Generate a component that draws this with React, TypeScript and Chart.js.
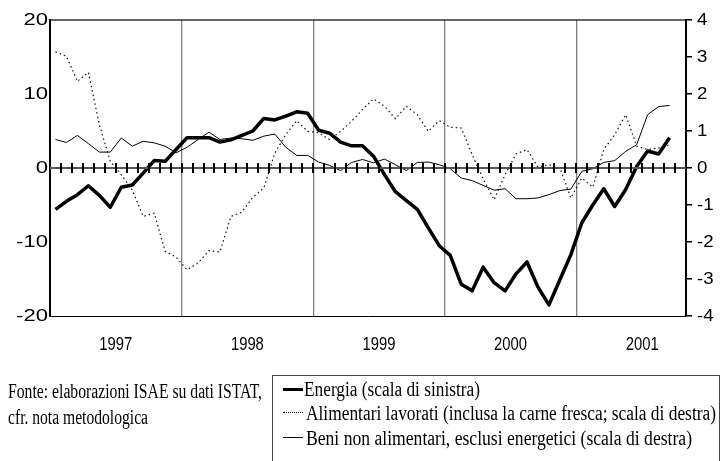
import React, { useEffect, useLayoutEffect, useRef } from 'react';
import { Chart, registerables } from 'chart.js';

Chart.register(...registerables);

// ---- data (monthly, Jan 1997 – Sep 2001) ----
const yearLabels = ['1997', '1998', '1999', '2000', '2001'];
const axisMonths = 58; // Jan 1997 .. Oct 2001

const energia = [
  -5.6, -4.5, -3.6, -2.4, -3.7, -5.3, -2.6, -2.3, -0.7, 1.0, 0.9, 2.5,
  4.1, 4.1, 4.1, 3.5, 3.8, 4.4, 5.0, 6.7, 6.5, 7.0, 7.6, 7.4,
  5.1, 4.7, 3.5, 3.0, 3.0, 1.6, -0.9, -3.2, -4.4, -5.6, -8.1, -10.5,
  -11.8, -15.7, -16.6, -13.4, -15.5, -16.6, -14.3, -12.7, -16.1, -18.5, -15.1, -11.7,
  -7.4, -5.0, -2.8, -5.2, -2.9, 0.2, 2.3, 1.9, 4.1,
];

const alimentari = [
  3.14, 3.02, 2.34, 2.59, 1.17, 0.18, -0.18, -0.59, -1.31, -1.22, -2.25, -2.41,
  -2.75, -2.57, -2.23, -2.27, -1.31, -1.19, -0.79, -0.54, 0.4, 0.9, 1.28, 0.99,
  0.95, 0.77, 0.99, 1.26, 1.58, 1.87, 1.67, 1.33, 1.67, 1.44, 0.99, 1.28,
  1.1, 1.08, 0.36, -0.29, -0.86, -0.18, 0.38, 0.5, 0.02, 0.09, 0.0, -0.81,
  -0.27, -0.52, 0.5, 0.9, 1.44, 0.59, 0.5, 0.54, 0.63,
];

const beni = [
  0.77, 0.69, 0.88, 0.66, 0.43, 0.43, 0.81, 0.59, 0.72, 0.68, 0.59, 0.41,
  0.56, 0.77, 0.97, 0.77, 0.81, 0.79, 0.75, 0.86, 0.92, 0.56, 0.34, 0.34,
  0.16, 0.07, -0.07, 0.15, 0.23, 0.14, 0.24, 0.09, -0.07, 0.15, 0.16, 0.09,
  -0.02, -0.27, -0.34, -0.47, -0.6, -0.56, -0.83, -0.83, -0.81, -0.72, -0.61, -0.57,
  -0.09, -0.02, 0.15, 0.2, 0.45, 0.63, 1.44, 1.66, 1.69,
];

const legendLabels = [
  'Energia (scala di sinistra)',
  'Alimentari lavorati (inclusa la carne fresca; scala di destra)',
  'Beni non alimentari, esclusi energetici (scala di destra)',
];
const sourceLines = ['Fonte: elaborazioni ISAE su dati ISTAT,', 'cfr. nota metodologica'];

const toPoints = (arr: number[]) => arr.map((v, i) => ({ x: i + 0.5, y: v }));

const SANS = '"Liberation Sans", Arial, sans-serif';
const SERIF = '"Liberation Serif", "Times New Roman", serif';

function drawScaled(ctx: CanvasRenderingContext2D, text: string, px: number, py: number, align: CanvasTextAlign, sx: number) {
  ctx.save();
  ctx.translate(px, py);
  ctx.scale(sx, 1);
  ctx.textAlign = align;
  ctx.fillText(text, 0, 0);
  ctx.restore();
}

function drawFrame(chart: any) {
  const { ctx, chartArea: a, scales } = chart;
  const x = scales.x;
  const y = scales.y;
  const y0 = Math.round(y.getPixelForValue(0));
  ctx.save();
  ctx.setLineDash([]);
  ctx.globalAlpha = 1;
  // zero line
  ctx.fillStyle = '#555';
  ctx.fillRect(a.left, y0 - 1, a.right - a.left, 2);
  // monthly tick marks crossing the zero line
  ctx.fillStyle = '#000';
  for (let k = 1; k < axisMonths; k++) {
    const px = Math.round(x.getPixelForValue(k));
    ctx.fillRect(px - 1, y0 - 5, 2, 10);
  }
  // top frame line
  ctx.fillRect(a.left, a.top - 0.6, a.right - a.left, 1.2);
  ctx.restore();
}

const decorPlugin = {
  id: 'decor',
  afterDraw(chart: any) {
    const { ctx, chartArea: a, scales } = chart;
    drawFrame(chart);
    ctx.save();
    ctx.fillStyle = '#000';
    ctx.textBaseline = 'middle';
    ctx.font = `17px ${SANS}`;
    scales.y.ticks.forEach((t: any) => {
      drawScaled(ctx, String(t.value), a.left - 2, scales.y.getPixelForValue(t.value) + 0.5, 'right', 1.3);
    });
    ctx.font = `17px ${SANS}`;
    scales.y1.ticks.forEach((t: any) => {
      drawScaled(ctx, String(t.value), a.right + 11, scales.y1.getPixelForValue(t.value) + 0.5, 'left', 1.1);
    });
    ctx.font = `19px ${SANS}`;
    yearLabels.forEach((lab, i) => {
      drawScaled(ctx, lab, scales.x.getPixelForValue(i * 12 + 6), a.bottom + 29, 'center', 0.78);
    });
    ctx.restore();
  },
};

function FitText({ text, left, baseline, width, size }: { text: string; left: number; baseline: number; width: number; size: number }) {
  const ref = useRef<HTMLSpanElement>(null);
  useLayoutEffect(() => {
    const el = ref.current;
    if (!el) return;
    el.style.transform = 'none';
    const w = el.getBoundingClientRect().width;
    if (w > 0) el.style.transform = `scaleX(${width / w})`;
  }, [text, width]);
  return (
    <span
      ref={ref}
      style={{
        position: 'absolute',
        left,
        top: baseline - Math.round(size * 0.84),
        fontFamily: SERIF,
        fontSize: size,
        lineHeight: 1,
        whiteSpace: 'nowrap',
        transformOrigin: '0 0',
        color: '#000',
      }}
    >
      {text}
    </span>
  );
}

export default function App() {
  const canvasRef = useRef<HTMLCanvasElement>(null);

  useEffect(() => {
    const chart = new Chart(canvasRef.current as HTMLCanvasElement, {
      type: 'line',
      data: {
        datasets: [
          {
            label: legendLabels[0],
            data: toPoints(energia),
            yAxisID: 'y',
            borderColor: '#000',
            borderWidth: 3.5,
            pointRadius: 0,
            tension: 0,
            borderJoinStyle: 'round',
            fill: false,
          },
          {
            label: legendLabels[1],
            data: toPoints(alimentari),
            yAxisID: 'y1',
            borderColor: '#111',
            borderWidth: 1.2,
            borderDash: [1.5, 3],
            pointRadius: 0,
            tension: 0,
            fill: false,
          },
          {
            label: legendLabels[2],
            data: toPoints(beni),
            yAxisID: 'y1',
            borderColor: '#000',
            borderWidth: 1,
            pointRadius: 0,
            tension: 0,
            fill: false,
          },
        ],
      },
      options: {
        responsive: false,
        animation: false,
        layout: { padding: { top: 20, left: 0, right: 0, bottom: 0 } },
        plugins: { legend: { display: false }, tooltip: { enabled: false } },
        scales: {
          x: {
            type: 'linear',
            position: 'bottom',
            min: 0,
            max: axisMonths,
            ticks: { display: false, stepSize: 1, maxTicksLimit: 200 },
            grid: {
              drawTicks: false,
              lineWidth: 1.3,
              color: (c: any) =>
                c.tick && c.tick.value % 12 === 0 && c.tick.value > 0 && c.tick.value < axisMonths
                  ? '#808080'
                  : 'rgba(0,0,0,0)',
            },
            border: { display: true, color: '#000', width: 1 },
            afterFit: (s: any) => {
              s.height = 145;
            },
          },
          y: {
            type: 'linear',
            position: 'left',
            min: -20,
            max: 20,
            ticks: { display: false, stepSize: 10 },
            grid: { display: false, drawTicks: false },
            border: { display: true, color: '#000', width: 2 },
            afterFit: (s: any) => {
              s.width = 50;
            },
          },
          y1: {
            type: 'linear',
            position: 'right',
            min: -4,
            max: 4,
            ticks: { display: false, stepSize: 1 },
            grid: { display: true, drawOnChartArea: false, drawTicks: true, tickLength: 6, color: '#000', lineWidth: 1.5 },
            border: { display: true, color: '#000', width: 2 },
            afterFit: (s: any) => {
              s.width = 37;
            },
          },
        },
      } as any,
      plugins: [decorPlugin],
    });
    return () => chart.destroy();
  }, []);

  const sampleBase: React.CSSProperties = { position: 'absolute', left: 283, width: 20 };

  return (
    <div style={{ position: 'fixed', left: 0, top: 0, width: 723, height: 461, overflow: 'hidden', background: '#fff' }}>
      <canvas ref={canvasRef} width={723} height={461} style={{ position: 'absolute', left: 0, top: 0, width: 723, height: 461 }} />
      <FitText text={sourceLines[0]} left={8} baseline={398} width={254} size={20} />
      <FitText text={sourceLines[1]} left={8} baseline={424} width={140} size={20} />
      <div style={{ position: 'absolute', left: 272, top: 375, width: 448, height: 110, border: '1px solid #444', boxSizing: 'border-box' }} />
      <div style={{ ...sampleBase, top: 388, height: 3, background: '#000' }} />
      <div style={{ ...sampleBase, top: 412, height: 0, borderTop: '1.5px dotted #000' }} />
      <div style={{ ...sampleBase, top: 437, height: 1, background: '#000' }} />
      <FitText text={legendLabels[0]} left={304} baseline={396} width={176} size={20} />
      <FitText text={legendLabels[1]} left={306} baseline={420} width={410} size={20} />
      <FitText text={legendLabels[2]} left={306} baseline={445} width={386} size={20} />
    </div>
  );
}
